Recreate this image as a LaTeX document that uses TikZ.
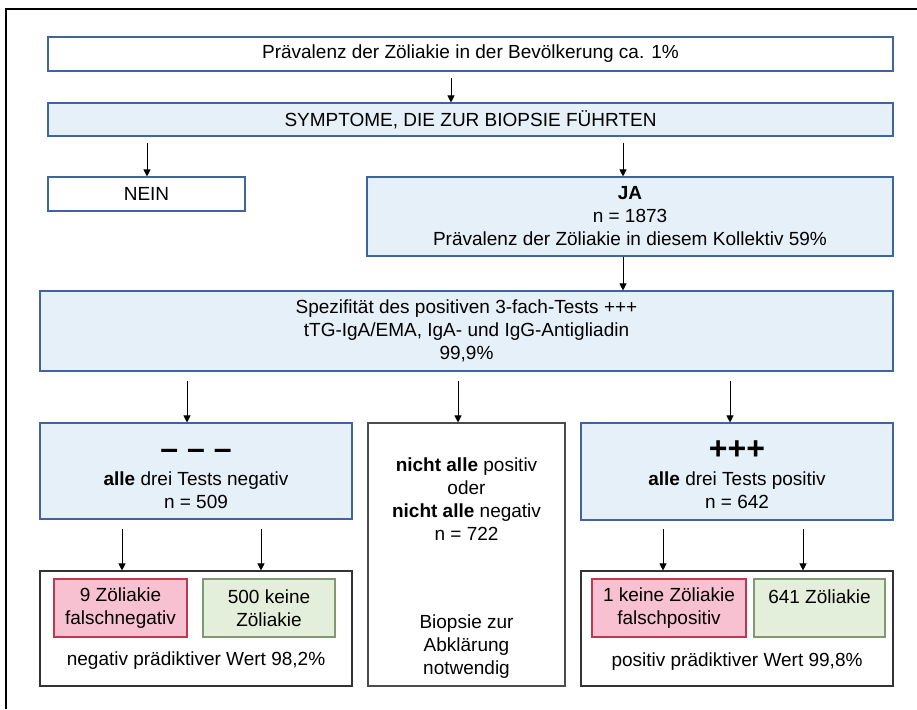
\documentclass[tikz,border=0pt]{standalone}
\usepackage{fontspec}
\setmainfont{Liberation Sans}
\usetikzlibrary{arrows.meta}

\definecolor{boxline}{HTML}{3F64A0}
\definecolor{boxfill}{HTML}{E6F0F8}
\definecolor{redline}{HTML}{C0374F}
\definecolor{redfill}{HTML}{F7C1D2}
\definecolor{greenline}{HTML}{7F9970}
\definecolor{greenfill}{HTML}{E3EFDB}
\newcommand{\bigsign}[1]{{\fontsize{32}{32}\selectfont\bfseries #1}\rule{0pt}{26pt}}

\begin{document}
\begin{tikzpicture}[x=1pt, y=-1pt,
    font=\fontsize{19}{23}\selectfont,
    box/.style={draw, rectangle, inner sep=0pt, align=center, line width=1.1pt},
    whitebox/.style={box, draw=boxline, fill=white},
    bluebox/.style={box, draw=boxline, fill=boxfill},
    graybox/.style={box, draw=black!70, fill=white},
    resbox/.style={box, draw=black!80, fill=white},
    redbox/.style={box, draw=redline, fill=redfill},
    greenbox/.style={box, draw=greenline, fill=greenfill},
    arr/.style={-{Triangle[length=7pt, width=7pt]}, line width=0.9pt}]
    \useasboundingbox (0,0) rectangle (917,709);
    \draw [line width=1.3pt] (6,709) -- (6,9) -- (917,9);

    % top of the tree
    \node [whitebox, minimum width=845, minimum height=34] (prev) at (470.5,54) {Prävalenz der Zöliakie in der Bevölkerung ca. 1\%};
    \node [bluebox, minimum width=845, minimum height=33] (sym) at (470.5,119.5) {SYMPTOME, DIE ZUR BIOPSIE FÜHRTEN};
    \node [whitebox, minimum width=197, minimum height=34] (nein) at (146.5,194) {NEIN};
    \node [bluebox, minimum width=526, minimum height=79] (ja) at (630,216.5) {\textbf{JA}\\ n = 1873\\ Prävalenz der Zöliakie in diesem Kollektiv 59\%};
    \node [bluebox, minimum width=853, minimum height=80] (spez) at (466.5,331) {Spezifität des positiven 3-fach-Tests +++\\ tTG-IgA/EMA, IgA- und IgG-Antigliadin\\ 99,9\%};

    % the three groups
    \node [bluebox, minimum width=312, minimum height=96] (neg) at (196,471) {\bigsign{– – –}\\[3pt] \textbf{alle} drei Tests negativ\\ n = 509};
    \node [graybox, minimum width=197, minimum height=263] (mid) at (466.5,554.5) {};
    \node [align=center] (midtop) at (466.5,499) {\textbf{nicht alle} positiv\\ oder\\ \textbf{nicht alle} negativ\\ n = 722};
    \node [align=center] (midbot) at (466.5,647) {Biopsie zur\\ Abklärung\\ notwendig};
    \node [bluebox, minimum width=312, minimum height=97] (pos) at (737,471.5) {\bigsign{+++}\\[3pt] \textbf{alle} drei Tests positiv\\ n = 642};

    % results
    \node [resbox, minimum width=312, minimum height=115] (negres) at (196,628.5) {};
    \node [redbox, minimum width=133, minimum height=58] (fn) at (120.5,608) {9 Zöliakie\\ falschnegativ};
    \node [greenbox, minimum width=132, minimum height=58] (tn) at (269,608) {500 keine\\ Zöliakie};
    \node (negtxt) at (196,661) {negativ prädiktiver Wert 98,2\%};
    \node [resbox, minimum width=312, minimum height=115] (posres) at (737,628.5) {};
    \node [redbox, minimum width=154, minimum height=58] (fp) at (669,608) {1 keine Zöliakie\\ falschpositiv};
    \node [greenbox, minimum width=131, minimum height=58] (tp) at (819.5,608) {641 Zöliakie\\ ~};
    \node (postxt) at (737,662) {positiv prädiktiver Wert 99,8\%};

    % arrows
    \coordinate (a1) at (451,78);
    \coordinate (a2) at (147,143);
    \coordinate (a3) at (623,143);
    \coordinate (a4) at (ja.south -| a3);
    \coordinate (a5) at (187,381);
    \coordinate (a6) at (458,381);
    \coordinate (a7) at (730,381);
    \coordinate (a8) at (122,529);
    \coordinate (a9) at (261,529);
    \coordinate (a10) at (663,529);
    \coordinate (a11) at (803,529);
    \draw [arr] (a1) -- (a1 |- sym.north);
    \draw [arr] (a2) -- (a2 |- nein.north);
    \draw [arr] (a3) -- (a3 |- ja.north);
    \draw [arr] (a4) -- (a4 |- spez.north);
    \draw [arr] (a5) -- (a5 |- neg.north);
    \draw [arr] (a6) -- (a6 |- mid.north);
    \draw [arr] (a7) -- (a7 |- pos.north);
    \draw [arr] (a8) -- (a8 |- negres.north);
    \draw [arr] (a9) -- (a9 |- negres.north);
    \draw [arr] (a10) -- (a10 |- posres.north);
    \draw [arr] (a11) -- (a11 |- posres.north);
\end{tikzpicture}
\end{document}
